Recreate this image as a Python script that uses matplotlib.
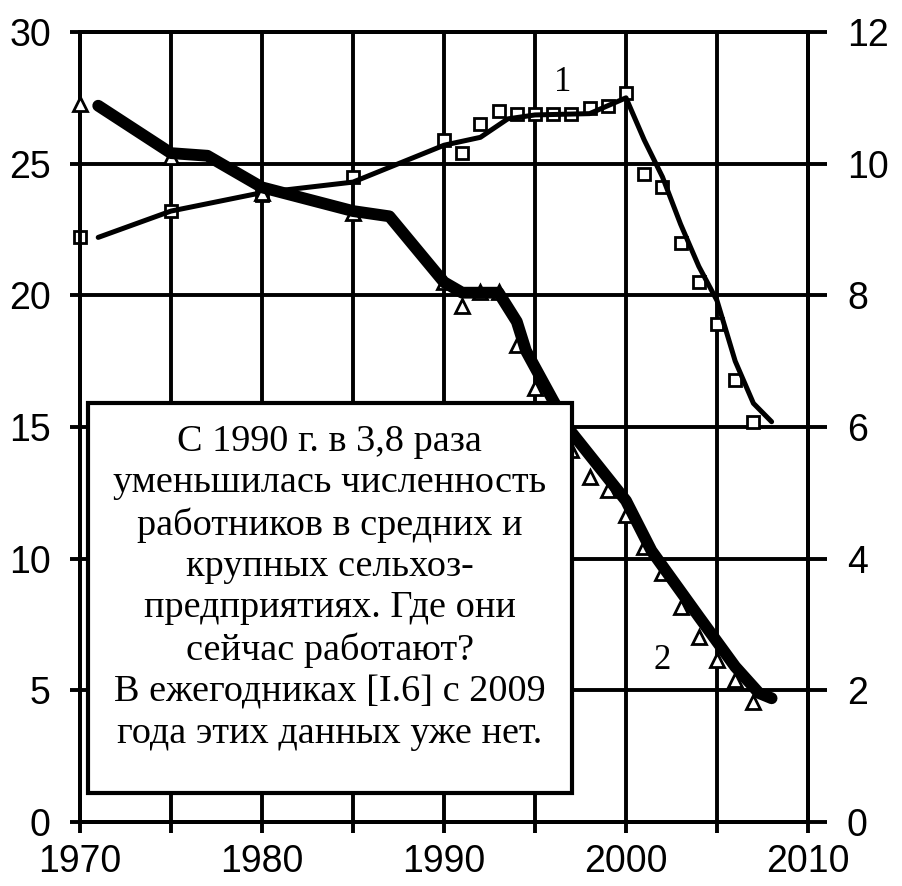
import matplotlib.pyplot as plt
from matplotlib.patches import Rectangle

# series 1: squares, left axis
years1 = [1970, 1975, 1980, 1985, 1990, 1991, 1992, 1993, 1994, 1995, 1996,
          1997, 1998, 1999, 2000, 2001, 2002, 2003, 2004, 2005, 2006, 2007]
vals1 = [22.2, 23.2, 23.8, 24.5, 25.9, 25.4, 26.5, 27.0, 26.9, 26.9, 26.9,
         26.9, 27.1, 27.2, 27.7, 24.6, 24.1, 22.0, 20.5, 18.9, 16.8, 15.2]
trend1_years = [1971, 1975, 1980, 1985, 1990, 1992, 1993.5, 1995, 1998, 1999,
                2000, 2001, 2002, 2003, 2004, 2005, 2006, 2007, 2008]
trend1_vals = [22.2, 23.2, 23.9, 24.3, 25.7, 26.0, 26.7, 26.85, 26.9, 27.2,
               27.5, 25.9, 24.5, 22.7, 21.1, 19.8, 17.5, 15.9, 15.2]

# series 2: triangles, right axis
years2 = [1970, 1975, 1980, 1985, 1990, 1991, 1992, 1993, 1994, 1995, 1996,
          1997, 1998, 1999, 2000, 2001, 2002, 2003, 2004, 2005, 2006, 2007]
vals2 = [10.9, 10.1, 9.56, 9.25, 8.2, 7.84, 8.05, 8.05, 7.25, 6.6, 6.1,
         5.65, 5.24, 5.04, 4.66, 4.18, 3.78, 3.27, 2.81, 2.46, 2.16, 1.82]
trend2_years = [1971, 1975, 1977, 1980, 1985, 1986, 1987, 1990, 1991, 1993,
                1994, 1994.5, 1996, 1997, 2000, 2001.4, 2004, 2006, 2007.3, 2008]
trend2_vals = [10.88, 10.16, 10.12, 9.64, 9.28, 9.24, 9.2, 8.2, 8.04, 8.04,
               7.6, 7.16, 6.4, 5.92, 4.88, 4.12, 3.12, 2.36, 1.96, 1.88]

left_ticks = [0, 5, 10, 15, 20, 25, 30]
right_ticks = [0, 2, 4, 6, 8, 10, 12]
x_ticks = [1970, 1975, 1980, 1985, 1990, 1995, 2000, 2005, 2010]
x_labels = ["1970", "", "1980", "", "1990", "", "2000", "", "2010"]

note = ("С 1990 г. в 3,8 раза\nуменьшилась численность\nработников в средних и\n"
        "крупных сельхоз-\nпредприятиях. Где они\nсейчас работают?\n"
        "В ежегодниках [I.6] с 2009\nгода этих данных уже нет.")
serif = ["Liberation Serif", "DejaVu Serif"]

plt.rcParams["font.family"] = ["Liberation Sans", "DejaVu Sans"]
fig = plt.figure(figsize=(9.02, 8.86), dpi=100)
ax = fig.add_axes([0.0887, 0.0722, 0.8071, 0.8917])
ax2 = ax.twinx()

lw = 2.8
ax.set_xlim(1970, 2010)
ax.set_ylim(0, 30)
ax2.set_ylim(0, 12)
ax.set_xticks(x_ticks)
ax.set_xticklabels(x_labels)
ax.set_yticks(left_ticks)
ax2.set_yticks(right_ticks)
ax.grid(True, color="black", linewidth=lw)
for a in (ax, ax2):
    for s in a.spines.values():
        s.set_linewidth(lw)
ax.tick_params(axis="x", length=8, width=lw, labelsize=27, pad=8)
ax.tick_params(axis="y", length=7, width=lw, labelsize=27, pad=14)
ax2.tick_params(axis="y", length=14, width=lw, labelsize=27, pad=14)

ax.plot(years1, vals1, linestyle="none", marker="s", markersize=9,
        markerfacecolor="white", markeredgecolor="black", markeredgewidth=2,
        zorder=3, clip_on=False)
ax.plot(trend1_years, trend1_vals, color="black", linewidth=3.6,
        solid_capstyle="round", zorder=4)

ax2.plot(years2, vals2, linestyle="none", marker="^", markersize=10,
         markerfacecolor="white", markeredgecolor="black", markeredgewidth=2,
         zorder=3, clip_on=False)
ax2.plot(trend2_years, trend2_vals, color="black", linewidth=8.5,
         solid_capstyle="round", zorder=4)

ax2.add_patch(Rectangle((0.011, 0.037), 0.665, 0.493, transform=ax2.transAxes,
                        facecolor="white", edgecolor="black", linewidth=3, zorder=10))
ax2.text(0.343, 0.297, note, transform=ax2.transAxes, ha="center", va="center",
         fontsize=27.5, family=serif, linespacing=1.26, zorder=11)

ax.text(1996.5, 28.1, "1", ha="center", va="center", fontsize=25,
        family=serif, zorder=5)
ax2.text(2002.0, 2.46, "2", ha="center", va="center", fontsize=25,
         family=serif, zorder=5,
         bbox=dict(facecolor="white", edgecolor="none", pad=2))

fig.savefig("out.png", dpi=100)
